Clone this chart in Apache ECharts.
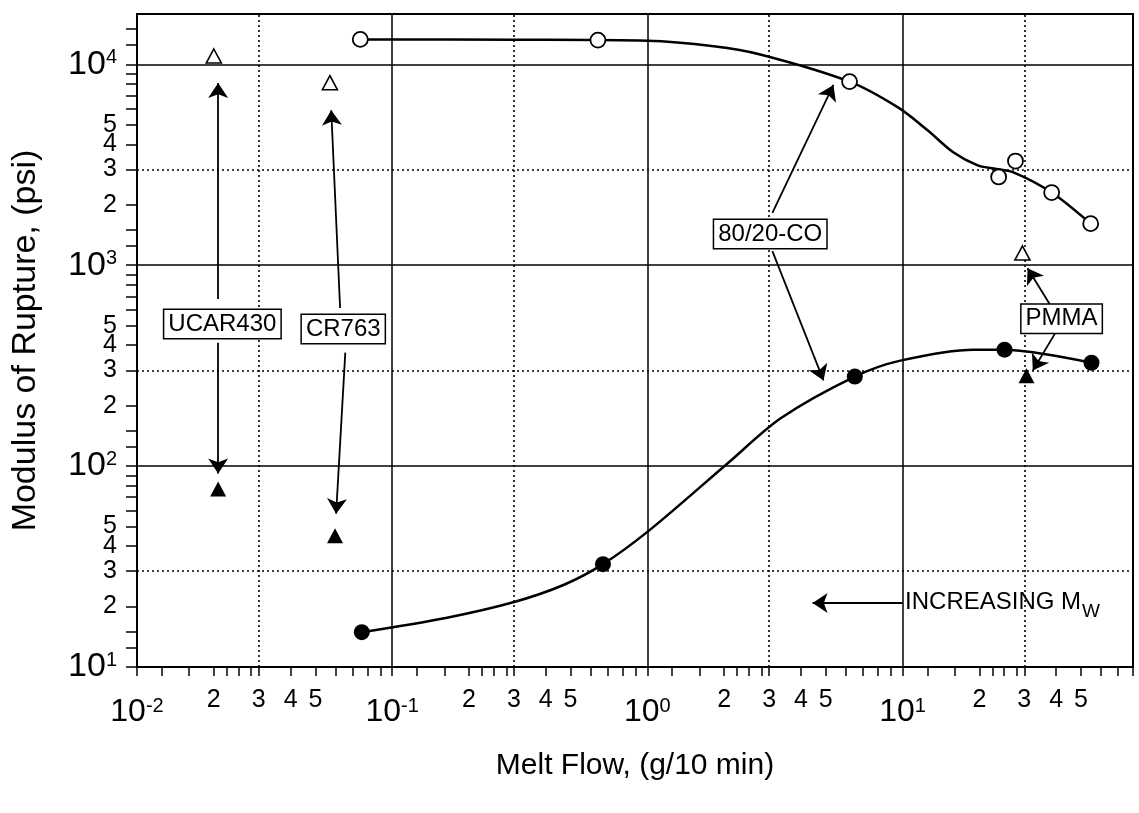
<!DOCTYPE html>
<html>
<head>
<meta charset="utf-8">
<title>Modulus of Rupture vs Melt Flow</title>
<script src="https://cdn.jsdelivr.net/npm/echarts@6/dist/echarts.min.js"></script>
<style>
  html, body { margin: 0; padding: 0; background: #fff; }
  #chart { width: 1139px; height: 813px; }
</style>
</head>
<body>
<div id="chart"></div>
<script>
  // axis ranges
  const xMin = 0.01, xMax = 80;
  const yMin = 10, yMax = 17800;

  // tick layout of the log paper (decade exponents + mantissas)
  const xDecades = [-2, -1, 0, 1];
  const yDecades = [1, 2, 3, 4];
  const xTickSteps = [1, 1.25, 1.6, 2, 2.25, 2.5, 2.8, 3, 4, 5, 6, 7, 8, 9];
  const yTickSteps = [1, 1.25, 1.5, 2, 3, 4, 5, 6, 7, 8, 9];
  const labelSteps = [1, 2, 3, 4, 5];

  const majorGridX = [0.1, 1, 10];
  const majorGridY = [100, 1000, 10000];
  const dottedGridX = [0.03, 0.3, 3, 30];
  const dottedGridY = [30, 300, 3000];

  // 80/20-CO open circles + drawn curve
  const openCircleX = [0.075, 0.64, 6.2, 23.8, 27.7, 38.4, 54.6];
  const openCircleY = [13300, 13200, 8200, 2750, 3300, 2300, 1610];
  const upperCurveX = [0.075, 0.3, 1.0, 1.82, 2.77, 6.2, 9.6, 12.5, 15.8, 19.7, 22.8, 27.2, 38.4, 54.6];
  const upperCurveY = [13300, 13250, 13100, 12300, 11200, 8200, 6100, 4710, 3650, 3140, 3030, 2900, 2300, 1610];

  // 80/20-CO filled circles + drawn curve
  const filledCircleX = [0.076, 0.67, 6.5, 25.1, 55];
  const filledCircleY = [14.9, 32.5, 279, 380, 327];
  const lowerCurveX = [0.076, 0.164, 0.298, 0.469, 0.67, 1.02, 2.06, 3.33, 6.5, 9.8, 19, 25.1, 55];
  const lowerCurveY = [14.9, 17.6, 21.0, 25.6, 32.5, 48, 103, 173, 279, 335, 380, 380, 327];

  // UCAR430, CR763, PMMA
  const openTriX = [0.020, 0.057, 29.5];
  const openTriY = [11000, 8100, 1150];
  const filledTriX = [0.0208, 0.0597, 30.6];
  const filledTriY = [77, 45, 282];

  // annotation boxes and arrows (data coordinates)
  const boxNames = ['UCAR430', 'CR763', '80/20-CO', 'PMMA'];
  const boxCoords = [[0.0216, 510], [0.0643, 482], [3.03, 1430], [42, 541]];
  const arrowFrom = [[0.0208, 679], [0.0208, 411], [0.0625, 612], [0.0655, 367],
                     [3.09, 1820], [3.09, 1175], [37.7, 641], [39.5, 455], [10, 20.8]];
  const arrowTo = [[0.0208, 8070], [0.0208, 92], [0.0577, 5910], [0.0603, 58],
                   [5.36, 7890], [4.9, 267], [30.9, 966], [32.4, 299], [4.44, 20.8]];

  const FONT = '"Liberation Sans Narrow", "Arial Narrow", "Liberation Sans", Arial, sans-serif';

  const pts = (xs, ys) => xs.map((x, i) => [x, ys[i]]);
  function logValues(decades, steps) {
    const out = [];
    decades.forEach(d => steps.forEach(s => out.push(d + Math.log10(s))));
    return out;
  }
  function tickLabel(v) {
    const d = Math.floor(v + 1e-6);
    const m = Math.round(Math.pow(10, v - d));
    return m === 1 ? '{b|10}{s|' + d + '}' : '{m|' + m + '}';
  }

  const chart = echarts.init(document.getElementById('chart'));

  const option = {
    animation: false,
    backgroundColor: '#fff',
    grid: {
      left: 137, right: 6, top: 14, bottom: 146,
      show: true, borderColor: '#000', borderWidth: 2, backgroundColor: '#fff'
    },
    xAxis: [
      {
        type: 'log', min: xMin, max: xMax, position: 'bottom',
        name: 'Melt Flow, (g/10 min)', nameLocation: 'middle', nameGap: 84,
        nameTextStyle: { fontSize: 30, fontFamily: FONT, color: '#000' },
        axisLine: { show: true, onZero: false, lineStyle: { color: '#000', width: 2 } },
        axisTick: { show: false }, axisLabel: { show: false }, splitLine: { show: false }
      },
      {
        type: 'value', min: -2, max: Math.log10(xMax), position: 'bottom',
        axisLine: { show: false, onZero: false },
        axisTick: { show: true, length: 9, customValues: logValues(xDecades, xTickSteps),
                    lineStyle: { color: '#000', width: 1.5 } },
        axisLabel: {
          customValues: logValues(xDecades, labelSteps), margin: 29,
          formatter: tickLabel,
          rich: {
            b: { fontSize: 32, lineHeight: 32, verticalAlign: 'bottom', fontFamily: FONT, color: '#000' },
            s: { fontSize: 20, lineHeight: 14, verticalAlign: 'top', fontFamily: FONT, color: '#000' },
            m: { fontSize: 25, lineHeight: 8, fontFamily: FONT, color: '#000' }
          }
        },
        splitLine: { show: false }
      }
    ],
    yAxis: [
      {
        type: 'log', min: yMin, max: yMax, position: 'left',
        name: 'Modulus of Rupture, (psi)', nameLocation: 'middle', nameGap: 94,
        nameTextStyle: { fontSize: 34, fontFamily: FONT, color: '#000' },
        axisLine: { show: true, onZero: false, lineStyle: { color: '#000', width: 2 } },
        axisTick: { show: false }, axisLabel: { show: false }, splitLine: { show: false }
      },
      {
        type: 'value', min: 1, max: Math.log10(yMax), position: 'left',
        axisLine: { show: false, onZero: false },
        axisTick: { show: true, length: 11, customValues: logValues(yDecades, yTickSteps),
                    lineStyle: { color: '#000', width: 1.5 } },
        axisLabel: {
          customValues: logValues(yDecades, labelSteps), margin: 20,
          formatter: tickLabel,
          rich: {
            b: { fontSize: 34, lineHeight: 34, verticalAlign: 'bottom', fontFamily: FONT, color: '#000' },
            s: { fontSize: 20, lineHeight: 16, verticalAlign: 'top', fontFamily: FONT, color: '#000' },
            m: { fontSize: 25, lineHeight: 20, fontFamily: FONT, color: '#000' }
          }
        },
        splitLine: { show: false }
      }
    ],
    series: [
      {
        // grid lines of the log paper
        type: 'line', data: [], z: 1,
        markLine: {
          silent: true, symbol: 'none', label: { show: false }, animation: false,
          lineStyle: { color: '#000' },
          data: [
            ...majorGridX.map(v => ({ xAxis: v, lineStyle: { type: 'solid', width: 1.5 } })),
            ...majorGridY.map(v => ({ yAxis: v, lineStyle: { type: 'solid', width: 1.5 } })),
            ...dottedGridX.map(v => ({ xAxis: v, lineStyle: { type: [2, 3], width: 1.6 } })),
            ...dottedGridY.map(v => ({ yAxis: v, lineStyle: { type: [2, 3], width: 1.6 } }))
          ]
        }
      },
      {
        type: 'line', data: pts(upperCurveX, upperCurveY), smooth: 0.3,
        showSymbol: false, z: 3, lineStyle: { color: '#000', width: 2.5 }
      },
      {
        type: 'line', data: pts(lowerCurveX, lowerCurveY), smooth: 0.3,
        showSymbol: false, z: 3, lineStyle: { color: '#000', width: 2.5 }
      },
      {
        type: 'scatter', data: pts(openCircleX, openCircleY), symbol: 'circle', symbolSize: 15, z: 5,
        itemStyle: { color: '#fff', borderColor: '#000', borderWidth: 1.8, opacity: 1 }
      },
      {
        type: 'scatter', data: pts(filledCircleX, filledCircleY), symbol: 'circle', symbolSize: 16, z: 5,
        itemStyle: { color: '#000', opacity: 1 }
      },
      {
        type: 'scatter', data: pts(openTriX, openTriY), symbol: 'triangle', symbolSize: [15, 14], z: 5,
        itemStyle: { color: '#fff', borderColor: '#000', borderWidth: 1.6, opacity: 1 }
      },
      {
        type: 'scatter', data: pts(filledTriX, filledTriY), symbol: 'triangle', symbolSize: [16, 15], z: 5,
        itemStyle: { color: '#000', opacity: 1 }
      },
      {
        // labels and arrows
        type: 'scatter', data: [], z: 6,
        itemStyle: { color: '#000' },
        markLine: {
          silent: true, animation: false, symbol: ['none', 'arrow'], symbolSize: 15,
          label: { show: false },
          itemStyle: { color: '#000' },
          lineStyle: { color: '#000', width: 1.8, type: 'solid' },
          data: arrowFrom.map((p, i) => [{ coord: p }, { coord: arrowTo[i] }])
        },
        markPoint: {
          silent: true, animation: false, symbol: 'circle', symbolSize: 1,
          itemStyle: { color: 'rgba(0,0,0,0)' },
          label: {
            show: true, position: 'inside', formatter: '{b}', fontSize: 24, fontFamily: FONT, color: '#000',
            backgroundColor: '#fff', borderColor: '#000', borderWidth: 1.5, padding: [3, 4, 1, 4]
          },
          data: [
            ...boxNames.map((n, i) => ({ name: n, coord: boxCoords[i] })),
            {
              name: 'INCREASING', coord: arrowFrom[8],
              label: {
                position: 'right', distance: 2, backgroundColor: 'transparent', borderWidth: 0, padding: 0,
                formatter: '{a|INCREASING M}{w|W}',
                rich: {
                  a: { fontSize: 24, lineHeight: 26, verticalAlign: 'top', fontFamily: FONT, color: '#000' },
                  w: { fontSize: 19, lineHeight: 19, padding: [12, 0, 0, 1], verticalAlign: 'top', fontFamily: FONT, color: '#000' }
                }
              }
            }
          ]
        }
      }
    ]
  };

  chart.setOption(option);
</script>
</body>
</html>
